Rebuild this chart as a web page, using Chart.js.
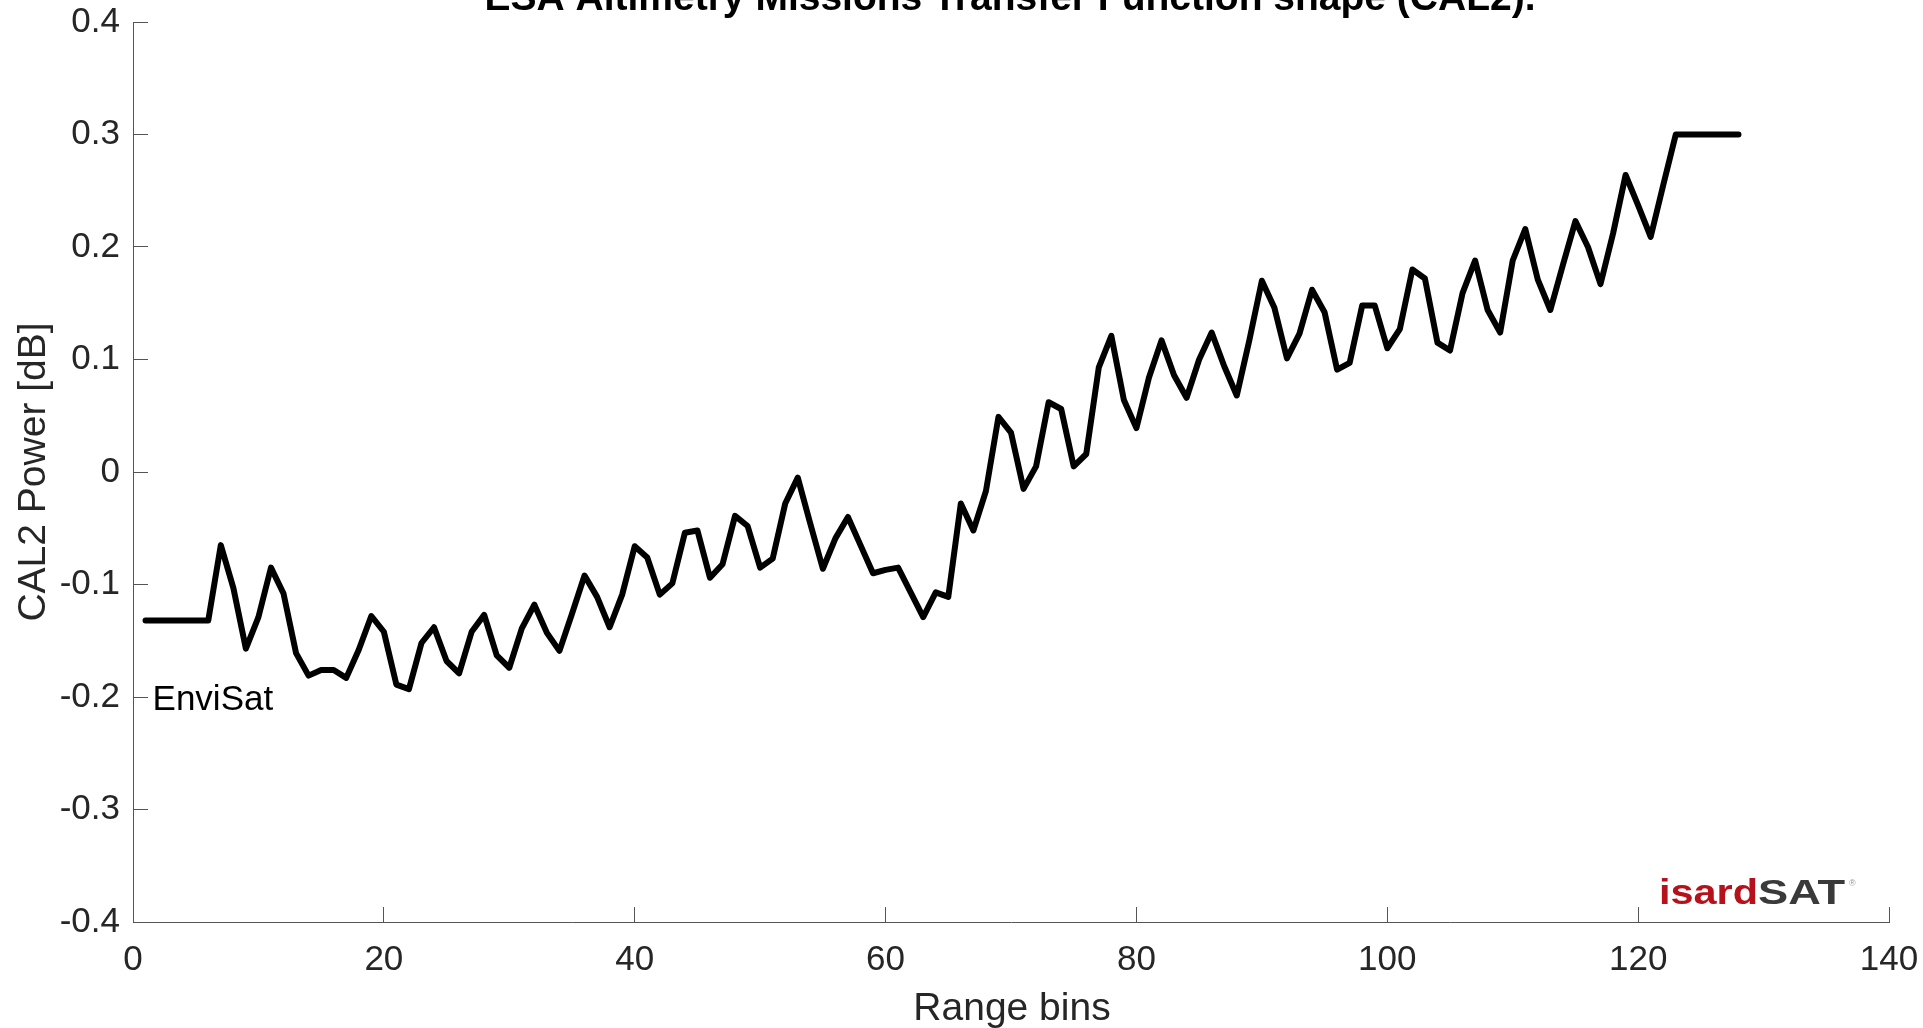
<!DOCTYPE html>
<html>
<head>
<meta charset="utf-8">
<script src="https://cdn.jsdelivr.net/npm/chart.js@4/dist/chart.umd.min.js"></script>
<style>
  html, body { margin: 0; padding: 0; background: #fff; overflow: hidden; }
  canvas { display: block; }
</style>
</head>
<body>
<canvas id="myChart" width="1923" height="1028"></canvas>
<script>
const BINS = [];
for (let i = 1; i <= 128; i++) BINS.push(i);

// CAL2 power [dB], one value per range bin (1..128)
const CAL2_POWER = [
  -0.132, -0.132, -0.132, -0.132, -0.132, -0.132, -0.065, -0.103, -0.157, -0.129,
  -0.085, -0.108, -0.161, -0.181, -0.176, -0.176, -0.183, -0.158, -0.128, -0.142,
  -0.189, -0.193, -0.152, -0.138, -0.168, -0.179, -0.142, -0.127, -0.163, -0.174,
  -0.139, -0.118, -0.143, -0.159, -0.126, -0.092, -0.111, -0.138, -0.109, -0.066,
  -0.076, -0.109, -0.099, -0.054, -0.052, -0.094, -0.082, -0.039, -0.048, -0.085,
  -0.077, -0.028, -0.005, -0.046, -0.086, -0.059, -0.040, -0.065, -0.090, -0.087,
  -0.085, -0.107, -0.129, -0.107, -0.111, -0.028, -0.052, -0.017, 0.049, 0.035,
  -0.015, 0.005, 0.062, 0.056, 0.005, 0.016, 0.093, 0.121, 0.064, 0.039,
  0.084, 0.117, 0.086, 0.066, 0.100, 0.124, 0.094, 0.068, 0.117, 0.170,
  0.146, 0.101, 0.123, 0.162, 0.142, 0.091, 0.097, 0.148, 0.148, 0.110,
  0.127, 0.180, 0.172, 0.115, 0.108, 0.159, 0.188, 0.144, 0.124, 0.188,
  0.216, 0.171, 0.144, 0.184, 0.223, 0.200, 0.167, 0.212, 0.264, 0.237,
  0.209, 0.255, 0.300, 0.300, 0.300, 0.300, 0.300, 0.300,
];

const X_TICKS = [0, 20, 40, 60, 80, 100, 120, 140];
const Y_TICKS = [-0.4, -0.3, -0.2, -0.1, 0, 0.1, 0.2, 0.3, 0.4];

const TITLE = 'ESA Altimetry Missions Transfer Function shape (CAL2).';
const X_LABEL = 'Range bins';
const Y_LABEL = 'CAL2 Power [dB]';
const MISSION = 'EnviSat';

const FONT = '"Liberation Sans", Arial, Helvetica, sans-serif';
const AXIS_COLOR = '#555555';
const TEXT_COLOR = '#262626';

const points = BINS.map((b, i) => ({x: b, y: CAL2_POWER[i]}));

// no extra room for overhanging tick labels, the plot box is fixed
function noPadding(scale) {
  scale.paddingLeft = 0;
  scale.paddingRight = 0;
  scale.paddingTop = 0;
  scale.paddingBottom = 0;
}

// titles, annotation text and logo drawn on top of the chart
const decorations = {
  id: 'decorations',
  afterDraw(chart) {
    const ctx = chart.ctx;
    const area = chart.chartArea;
    const xs = chart.scales.x;
    const ys = chart.scales.y;
    const cx = (area.left + area.right) / 2;
    ctx.save();

    ctx.fillStyle = '#000';
    ctx.font = 'bold 39px ' + FONT;
    ctx.textAlign = 'center';
    ctx.textBaseline = 'alphabetic';
    ctx.fillText(TITLE, cx - 1, 10);

    ctx.fillStyle = TEXT_COLOR;
    ctx.font = '39px ' + FONT;
    ctx.fillText(X_LABEL, cx + 1, 1020);

    ctx.save();
    ctx.translate(45, (area.top + area.bottom) / 2);
    ctx.rotate(-Math.PI / 2);
    ctx.fillText(Y_LABEL, 0, 0);
    ctx.restore();

    ctx.fillStyle = '#000';
    ctx.font = '35px ' + FONT;
    ctx.textAlign = 'left';
    ctx.textBaseline = 'middle';
    ctx.fillText(MISSION, xs.getPixelForValue(1) + 7, ys.getPixelForValue(-0.2) + 3);

    // isardSAT logo
    const lx = 1659;
    const ly = 904;
    ctx.textBaseline = 'alphabetic';
    ctx.font = 'bold 35px ' + FONT;
    const w1 = ctx.measureText('isard').width;
    const w2 = ctx.measureText('SAT').width;
    ctx.save();
    ctx.translate(lx, ly);
    ctx.scale(99 / w1, 1);
    ctx.fillStyle = '#b5121b';
    ctx.fillText('isard', 0, 0);
    ctx.restore();
    ctx.save();
    ctx.translate(lx + 99, ly);
    ctx.scale(87 / w2, 1);
    ctx.fillStyle = '#3a3a3a';
    ctx.fillText('SAT', 0, 0);
    ctx.restore();
    ctx.fillStyle = '#999';
    ctx.font = '9px ' + FONT;
    ctx.fillText('®', lx + 190, ly - 18);

    ctx.restore();
  },
};

const config = {
  type: 'line',
  data: {
    datasets: [
      {
        label: MISSION,
        data: points,
        borderColor: '#000000',
        backgroundColor: '#000000',
        borderWidth: 6,
        borderJoinStyle: 'round',
        borderCapStyle: 'round',
        pointRadius: 0,
        tension: 0,
        fill: false,
      },
    ],
  },
  options: {
    responsive: false,
    animation: false,
    layout: {
      padding: {left: 0, right: 34, top: 22, bottom: 0},
    },
    plugins: {
      legend: {display: false},
      title: {display: false},
      tooltip: {enabled: false},
    },
    scales: {
      x: {
        type: 'linear',
        min: 0,
        max: 140,
        afterBuildTicks: (scale) => {
          scale.ticks = X_TICKS.map((v) => ({value: v}));
        },
        afterFit: (scale) => {
          scale.height = 106;
          noPadding(scale);
        },
        grid: {
          drawOnChartArea: false,
          drawTicks: true,
          tickLength: -15,
          color: AXIS_COLOR,
          tickColor: AXIS_COLOR,
        },
        border: {display: true, color: AXIS_COLOR, width: 1},
        ticks: {
          color: TEXT_COLOR,
          padding: 32,
          maxRotation: 0,
          autoSkip: false,
          font: {family: FONT, size: 35},
        },
      },
      y: {
        type: 'linear',
        min: -0.4,
        max: 0.4,
        afterBuildTicks: (scale) => {
          scale.ticks = Y_TICKS.map((v) => ({value: v}));
        },
        afterFit: (scale) => {
          scale.width = 133;
          noPadding(scale);
        },
        grid: {
          drawOnChartArea: false,
          drawTicks: true,
          tickLength: -15,
          color: AXIS_COLOR,
          tickColor: AXIS_COLOR,
        },
        border: {display: true, color: AXIS_COLOR, width: 1},
        ticks: {
          color: TEXT_COLOR,
          padding: 28,
          autoSkip: false,
          font: {family: FONT, size: 35},
          callback: (v) => String(Math.round(v * 10) / 10),
        },
      },
    },
  },
  plugins: [decorations],
};

const myChart = new Chart(document.getElementById('myChart'), config);
</script>
</body>
</html>
